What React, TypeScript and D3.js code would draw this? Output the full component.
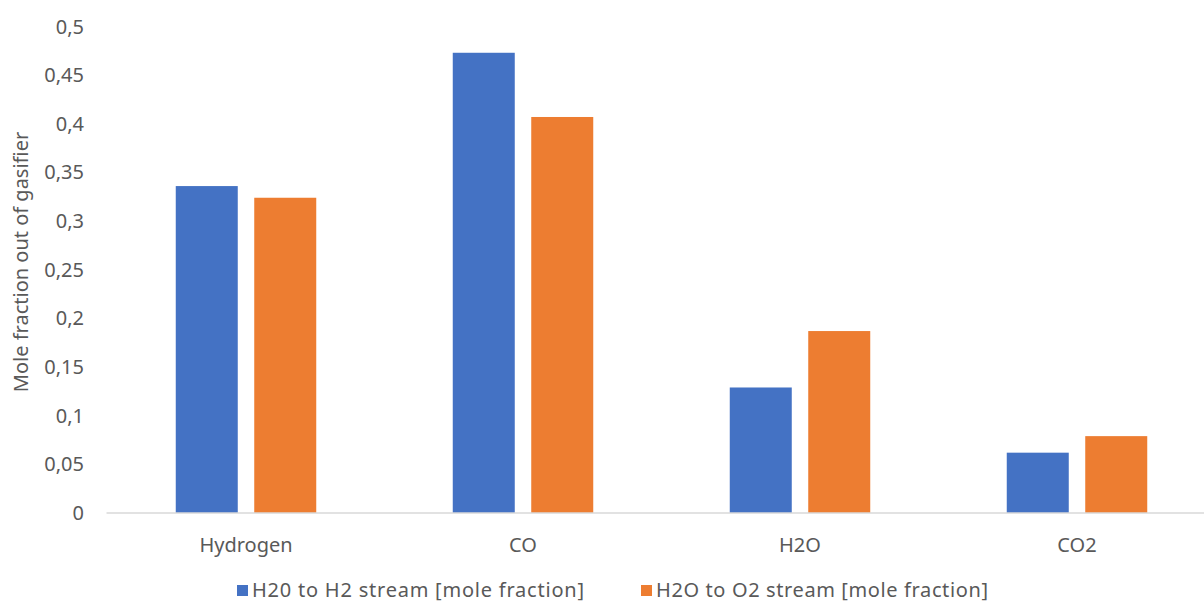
import React from "react";
import * as d3 from "d3";

const categories = ["Hydrogen", "CO", "H2O", "CO2"];
const seriesNames = ["H20 to H2 stream [mole fraction]", "H2O to O2 stream [mole fraction]"];
const h2StreamValues = [0.336, 0.473, 0.129, 0.062];
const o2StreamValues = [0.324, 0.407, 0.187, 0.079];
const yTicks = [0, 0.05, 0.1, 0.15, 0.2, 0.25, 0.3, 0.35, 0.4, 0.45, 0.5];
const yTitle = "Mole fraction out of gasifier";

const colors = ["#4472C4", "#ED7D31"];
const textColor = "#595959";
const font = "'Noto Sans', 'Open Sans', sans-serif";
const fontSize = 20;

const W = 1204;
const H = 602;

export default function App() {
  const series = [h2StreamValues, o2StreamValues];

  const y = d3.scaleLinear().domain([0, 0.5]).range([513, 26.5]);
  const x = d3
    .scaleBand<string>()
    .domain(categories)
    .range([107.5, 1215.5])
    .paddingInner(0.4928)
    .paddingOuter(0.2464);
  const xs = d3
    .scaleBand<number>()
    .domain([0, 1])
    .range([0, x.bandwidth()])
    .paddingInner(0.21);

  const fmt = (v: number) => String(+v.toFixed(2)).replace(".", ",");

  const legendX = [237, 641];
  const legendTextLen = 332;

  return (
    <div style={{ position: "fixed", left: 0, top: 0 }}>
      <svg width={W} height={H} style={{ display: "block", background: "#fff" }} fontFamily={font}>
        {/* value axis labels */}
        {yTicks.map((t) => (
          <text
            key={t}
            x={84}
            y={y(t)}
            dy="0.35em"
            textAnchor="end"
            fontSize={fontSize}
            fill={textColor}
          >
            {fmt(t)}
          </text>
        ))}
        <text
          transform={`translate(21,${262}) rotate(-90)`}
          textAnchor="middle"
          dy="0.35em"
          fontSize={fontSize}
          fill={textColor}
        >
          {yTitle}
        </text>

        {/* bars */}
        {categories.map((c, i) => (
          <g key={c} transform={`translate(${x(c)},0)`}>
            {series.map((vals, s) => (
              <rect
                key={s}
                x={xs(s)}
                y={y(vals[i])}
                width={xs.bandwidth()}
                height={y(0) - y(vals[i])}
                fill={colors[s]}
              />
            ))}
          </g>
        ))}

        {/* category axis */}
        <line x1={106.5} x2={W} y1={513} y2={513} stroke="#D9D9D9" strokeWidth={1.5} />
        {categories.map((c) => (
          <text
            key={c}
            x={(x(c) ?? 0) + x.bandwidth() / 2}
            y={545}
            dy="0.35em"
            textAnchor="middle"
            fontSize={fontSize}
            fill={textColor}
          >
            {c}
          </text>
        ))}

        {/* legend */}
        {seriesNames.map((n, s) => (
          <g key={n} transform={`translate(${legendX[s]},590)`}>
            <rect x={0} y={-5} width={11} height={11} fill={colors[s]} />
            <text
              x={15}
              dy="0.35em"
              fontSize={fontSize}
              fill={textColor}
              textLength={legendTextLen}
              lengthAdjust="spacing"
            >
              {n}
            </text>
          </g>
        ))}
      </svg>
    </div>
  );
}
